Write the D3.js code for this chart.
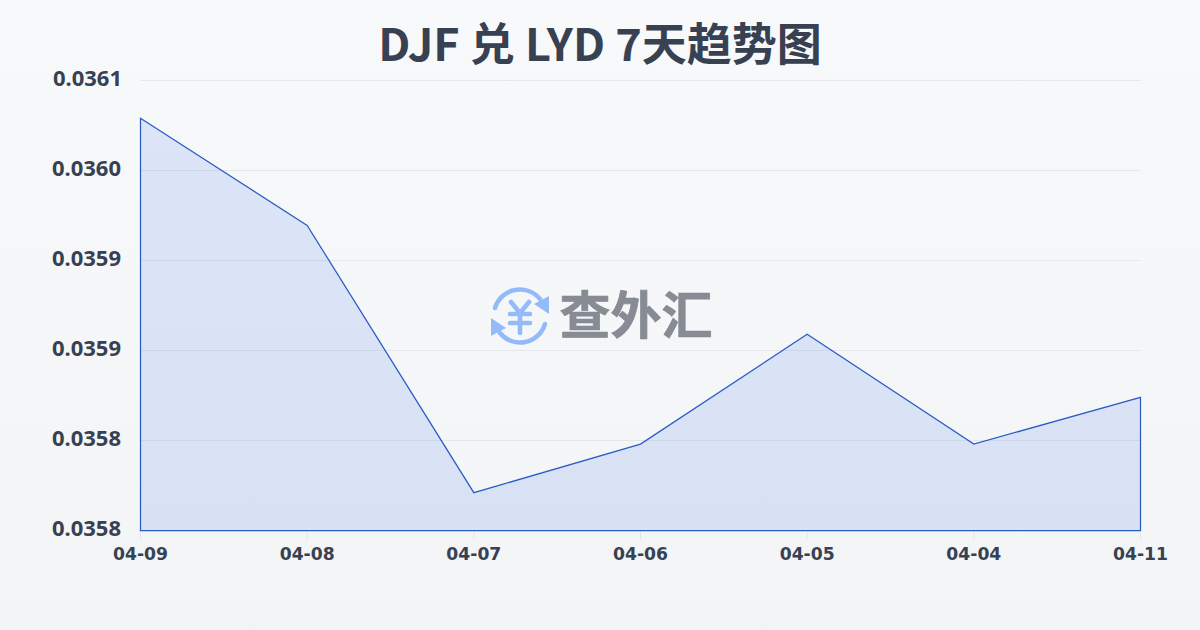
<!DOCTYPE html>
<html><head><meta charset="utf-8">
<script src="https://cdn.jsdelivr.net/npm/d3@7/dist/d3.min.js"></script>
<style>html,body{margin:0;padding:0;background:#fff}svg{display:block}</style>
</head><body><svg id="c" width="1200" height="630"></svg>
<script>
const chartTitle = "DJF 兑 LYD 7天趋势图";
const dates = ["04-09","04-08","04-07","04-06","04-05","04-04","04-11"];
const rates = [0.036029,0.0359695,0.035821,0.035848,0.035909,0.035848,0.035874];
const yTickValues = [0.0358,0.03585,0.0359,0.03595,0.036,0.03605];
const yTickLabels = ["0.0358","0.0358","0.0359","0.0359","0.0360","0.0361"];
const watermarkText = "查外汇";

const svg = d3.select("#c");
const defs = svg.append("defs");
const bg = defs.append("linearGradient").attr("id","bg").attr("x1",0).attr("y1",0).attr("x2",0).attr("y2",1);
bg.append("stop").attr("offset",0).attr("stop-color","#f8f9fb");
bg.append("stop").attr("offset",1).attr("stop-color","#f3f4f6");
svg.append("rect").attr("width",1200).attr("height",630).attr("fill","url(#bg)");

const x = d3.scalePoint().domain(dates).range([140.5,1140.5]);
const y = d3.scaleLinear().domain([0.0358,0.03605]).range([530.5,80.5]);

const grid = svg.append("g");
grid.selectAll("line").data(yTickValues.slice(1)).join("line")
  .attr("x1",140).attr("x2",1141).attr("y1",d=>y(d)).attr("y2",d=>y(d))
  .attr("stroke","#e5e7eb").attr("stroke-width",1);

svg.append("g").selectAll("line").data(dates).join("line")
  .attr("x1",d=>x(d)).attr("x2",d=>x(d)).attr("y1",y(0.0358)).attr("y2",y(0.0358)+10)
  .attr("stroke","#e5e7eb").attr("stroke-width",1);

const area = d3.area().x((d,i)=>x(dates[i])).y0(y(0.0358)).y1(d=>y(d));
svg.append("path").datum(rates).attr("d",area)
  .attr("fill","#2563eb").attr("fill-opacity",0.13)
  .attr("stroke","#2b5cc4").attr("stroke-width",1.25);

// watermark
const wm = svg.append("g");
const icon = wm.append("g").attr("transform","translate(520,316)").attr("fill","none").attr("stroke","#93bbf8").attr("stroke-linecap","round");
icon.append("path").attr("d","M-25,-8 A26,26 0 0 1 20,-17").attr("stroke-width",4.5);
icon.append("path").attr("d","M25,8 A26,26 0 0 1 -20,17").attr("stroke-width",4.5);
icon.append("path").attr("d","M29,-20 L29,-2 L14,-12 Z").attr("fill","#93bbf8").attr("stroke","none");
icon.append("path").attr("d","M-29,20 L-29,2 L-14,12 Z").attr("fill","#93bbf8").attr("stroke","none");
icon.append("path").attr("d","M-9,-14 L0,-3 L9,-14 M-10,-2 H10 M-10,7 H10 M0,-3 V17").attr("stroke-width",4.6);
wm.append("text").attr("x",636).attr("y",334).attr("text-anchor","middle")
  .attr("font-family","'Noto Sans CJK SC'").attr("font-weight",700).attr("font-size",51)
  .attr("fill","#868b94").attr("stroke","#868b94").attr("stroke-width",0.7).text(watermarkText);

svg.append("g").selectAll("text").data(yTickValues).join("text")
  .attr("x",(d,i)=>i==5?122:121).attr("y",d=>y(d)+5.5)
  .attr("text-anchor","end").attr("font-family","'Noto Sans'").attr("font-weight",700).attr("font-size",22)
  .attr("fill","#374151").text((d,i)=>yTickLabels[i]);

svg.append("g").selectAll("text").data(dates).join("text")
  .attr("x",d=>x(d)).attr("y",560).attr("text-anchor","middle")
  .attr("font-family","'DejaVu Sans'").attr("font-weight",700).attr("font-size",17.2)
  .attr("fill","#374151").text(d=>d);

svg.append("text").attr("x",600).attr("y",61).attr("text-anchor","middle")
  .attr("font-family","'Noto Sans CJK SC'").attr("font-weight",700).attr("font-size",45)
  .attr("fill","#374151").text(chartTitle);
</script></body></html>
